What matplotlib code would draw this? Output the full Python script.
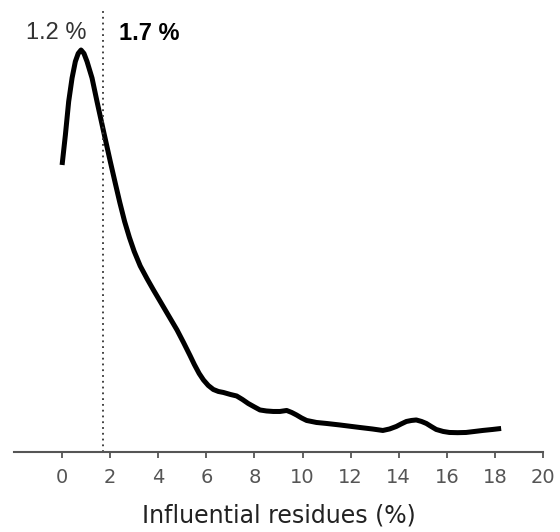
import matplotlib
matplotlib.use("Agg")
import matplotlib.pyplot as plt

plt.rcParams['font.family'] = ['DejaVu Sans']

# density curve
x = [0.0, 0.137, 0.274, 0.415, 0.552, 0.67, 0.788, 0.91, 1.037, 1.245, 1.452,
     1.726, 2.004, 2.21, 2.4, 2.6, 2.8, 3.0, 3.25, 3.54, 3.8, 4.07, 4.4, 4.78,
     5.05, 5.32, 5.5, 5.7, 5.88, 6.08, 6.29, 6.5, 6.71, 7.0, 7.26, 7.5, 7.74,
     8.0, 8.23, 8.5, 8.78, 9.06, 9.34, 9.55, 9.75, 9.96, 10.17, 10.58, 11.0,
     11.55, 12.38, 12.9, 13.34, 13.62, 13.9, 14.1, 14.32, 14.53, 14.73,
     14.95, 15.15, 15.35, 15.56, 15.85, 16.11, 16.45, 16.8, 17.15, 17.49,
     17.9, 18.26]
y = [0.2875, 0.3175, 0.351, 0.3745, 0.391, 0.399, 0.4025, 0.399, 0.391,
     0.3745, 0.351, 0.321, 0.291, 0.2695, 0.250, 0.231, 0.215, 0.201, 0.1865,
     0.1735, 0.1625, 0.1515, 0.138, 0.1225, 0.110, 0.097, 0.088, 0.079,
     0.0725, 0.067, 0.063, 0.061, 0.060, 0.058, 0.0565, 0.053, 0.049, 0.0455,
     0.0425, 0.0415, 0.041, 0.041, 0.042, 0.040, 0.0375, 0.0345, 0.032,
     0.030, 0.029, 0.0275, 0.025, 0.0235, 0.022, 0.0235, 0.026, 0.0285,
     0.031, 0.032, 0.0325, 0.031, 0.029, 0.026, 0.023, 0.021, 0.020, 0.0198,
     0.020, 0.021, 0.022, 0.023, 0.024]

cutoff = 1.7
xticks = [0, 2, 4, 6, 8, 10, 12, 14, 16, 18, 20]

fig = plt.figure(figsize=(5.6, 5.32), dpi=100)
ax = fig.add_axes([0.025, 0.1495, 0.9446, 0.8505])

ax.plot(x, y, color="black", lw=3.6, solid_capstyle="butt", solid_joinstyle="round")
ax.axvline(cutoff, ymax=0.978, color="#333333", ls=(0, (1, 2.2)), lw=1.3)

ax.text(1.0, 0.419, "1.2 %", ha="right", va="center", fontsize=17,
        family="Liberation Sans", color="#333333")
ax.text(2.37, 0.419, "1.7 %", ha="left", va="center", fontsize=17,
        family="Liberation Sans", fontweight="bold", color="black")

ax.set_xlim(-2, 20)
ax.set_ylim(0, 0.4525)
ax.set_xticks(xticks)
ax.set_yticks([])
for s in ["left", "right", "top"]:
    ax.spines[s].set_visible(False)
ax.spines["bottom"].set_color("#555555")
ax.spines["bottom"].set_linewidth(1.5)
ax.spines["bottom"].set_bounds(-2, 20)
ax.tick_params(axis="x", length=4, width=1.3, color="#555555", labelcolor="#555555",
               labelsize=14, pad=7)
ax.set_xlabel("Influential residues (%)", fontsize=17, color="#222222", labelpad=12)

fig.savefig("out.png", dpi=100)
